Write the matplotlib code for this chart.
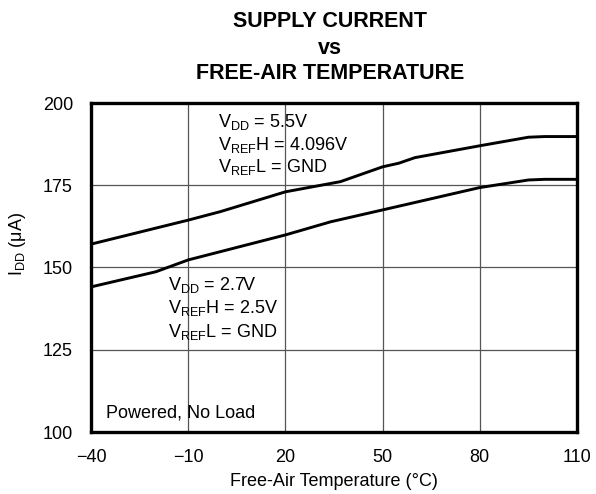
import matplotlib
matplotlib.use("Agg")
import matplotlib.pyplot as plt

plt.rcParams['font.family'] = ['Liberation Sans', 'DejaVu Sans']
plt.rcParams['mathtext.fontset'] = 'custom'
plt.rcParams['mathtext.rm'] = 'Liberation Sans'

# Data (temperature in C, current in uA)
temp_hi = [-40, -10, 0, 20, 37, 50, 55, 60, 80, 95, 100, 110]
idd_hi = [157.1, 164.4, 167.0, 173.0, 176.1, 180.6, 181.7, 183.4, 187.0, 189.6, 189.8, 189.8]
temp_lo = [-40, -20, -10, 20, 34, 50, 80, 95, 100, 110]
idd_lo = [144.1, 148.7, 152.3, 159.9, 163.9, 167.5, 174.3, 176.6, 176.8, 176.8]

xticks = [-40, -10, 20, 50, 80, 110]
xtick_labels = ['\u221240', '\u221210', '20', '50', '80', '110']
yticks = [100, 125, 150, 175, 200]

fig = plt.figure(figsize=(5.96, 4.94), dpi=100)
ax = fig.add_axes([91/596, 1-432/494, 486/596, 329/494])

ax.plot(temp_hi, idd_hi, color='black', lw=2.1)
ax.plot(temp_lo, idd_lo, color='black', lw=2.1)

ax.set_xlim(-40, 110)
ax.set_ylim(100, 200)
ax.set_xticks(xticks)
ax.set_xticklabels(xtick_labels)
ax.set_yticks(yticks)
ax.grid(True, color='#555555', lw=0.9)
ax.tick_params(length=0, labelsize=13)
ax.tick_params(axis='x', pad=12.5)
ax.tick_params(axis='y', pad=13)
for s in ax.spines.values():
    s.set_linewidth(2.4)

ax.set_xlabel('Free-Air Temperature (\u00b0C)', fontsize=13, labelpad=5)
fig.text(17/596, 1-244/494, 'I$_\\mathregular{DD}$ (\u03bcA)', rotation=90,
         ha='center', va='center', fontsize=13)

fs = 13
upper = [r'V$_\mathregular{DD}$ = 5.5V', r'V$_\mathregular{REF}$H = 4.096V', r'V$_\mathregular{REF}$L = GND']
lower = [r'V$_\mathregular{DD}$ = 2.7V', r'V$_\mathregular{REF}$H = 2.5V', r'V$_\mathregular{REF}$L = GND']
for txt, yy in zip(upper, [0.927, 0.857, 0.790]):
    ax.text(0.261, yy, txt, transform=ax.transAxes, fontsize=fs, va='baseline')
for txt, yy in zip(lower, [0.432, 0.362, 0.289]):
    ax.text(0.158, yy, txt, transform=ax.transAxes, fontsize=fs, va='baseline')
ax.text(0.031, 0.043, 'Powered, No Load', transform=ax.transAxes, fontsize=fs, va='baseline')

title_lines = ['SUPPLY CURRENT', 'vs', 'FREE-AIR TEMPERATURE']
for txt, yy in zip(title_lines, [21.5, 49, 73.5]):
    fig.text(330/596, 1-yy/494, txt, ha='center', va='center', fontsize=15.5, fontweight='bold')

fig.savefig('out.png', dpi=100)
